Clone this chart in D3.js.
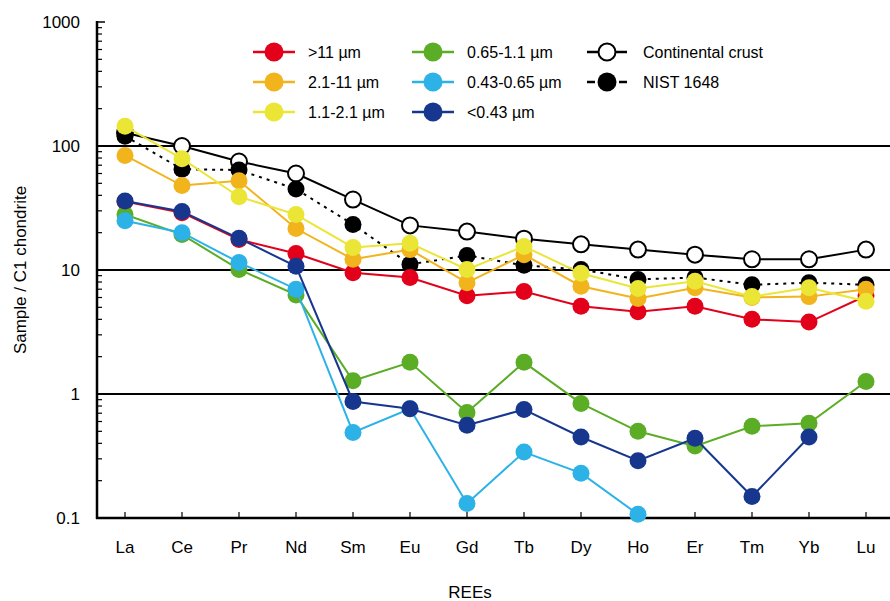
<!DOCTYPE html>
<html>
<head>
<meta charset="utf-8">
<script src="https://cdn.jsdelivr.net/npm/d3@7"></script>
<style>
  html, body { margin: 0; padding: 0; background: #fff; }
  svg { display: block; font-family: "Liberation Sans", Arial, sans-serif; }
</style>
</head>
<body>
<svg id="chart" width="890" height="601"></svg>
<script>
const categories = ["La","Ce","Pr","Nd","Sm","Eu","Gd","Tb","Dy","Ho","Er","Tm","Yb","Lu"];
const yTickValues = [0.1, 1, 10, 100, 1000];
const yTickLabels = ["0.1", "1", "10", "100", "1000"];

const seriesNames = [">11 µm", "2.1-11 µm", "1.1-2.1 µm", "0.65-1.1 µm", "0.43-0.65 µm", "<0.43 µm", "Continental crust", "NIST 1648"];
const gt11     = [35.7, 29, 17.6, 13.6, 9.5, 8.7, 6.2, 6.7, 5.1, 4.6, 5.1, 4.0, 3.8, 6.2];
const s2to11   = [84, 48, 52.5, 21.6, 12.2, 14.6, 7.9, 13.3, 7.4, 5.9, 7.2, 6.0, 6.1, 7.0];
const s1to2    = [144, 79, 39, 28, 15.2, 16.4, 10.1, 15.5, 9.4, 7.1, 8.1, 6.1, 7.2, 5.6];
const s065to11 = [28, 19.3, 10.1, 6.3, 1.28, 1.8, 0.71, 1.8, 0.84, 0.50, 0.38, 0.55, 0.58, 1.26];
const s043to065= [25, 20, 11.5, 7.0, 0.49, 0.76, 0.131, 0.34, 0.23, 0.107, null, null, null, null];
const lt043    = [36, 29.6, 18, 10.7, 0.87, 0.76, 0.56, 0.75, 0.45, 0.29, 0.44, 0.149, 0.45, null];
const crust    = [128, 100, 75, 60, 37, 22.9, 20.4, 17.9, 16.1, 14.6, 13.3, 12.2, 12.2, 14.6];
const nist     = [120, 65, 64, 45, 23.3, 11.1, 13.1, 10.9, 10.1, 8.4, 8.7, 7.6, 7.9, 7.6];

const seriesColors = ["#e2001a", "#f1b41d", "#ebe535", "#5bad25", "#2db2e7", "#17378e", "#000000", "#000000"];

const series = [
  {name: seriesNames[0], values: gt11, color: seriesColors[0], fill: seriesColors[0], dash: null},
  {name: seriesNames[1], values: s2to11, color: seriesColors[1], fill: seriesColors[1], dash: null},
  {name: seriesNames[2], values: s1to2, color: seriesColors[2], fill: seriesColors[2], dash: null},
  {name: seriesNames[3], values: s065to11, color: seriesColors[3], fill: seriesColors[3], dash: null},
  {name: seriesNames[4], values: s043to065, color: seriesColors[4], fill: seriesColors[4], dash: null},
  {name: seriesNames[5], values: lt043, color: seriesColors[5], fill: seriesColors[5], dash: null},
  {name: seriesNames[6], values: crust, color: seriesColors[6], fill: "#ffffff", dash: null, open: true},
  {name: seriesNames[7], values: nist, color: seriesColors[7], fill: "#000000", dash: "3,5"}
];

const svg = d3.select("#chart");
const plotLeft = 97, plotRight = 890, plotTop = 22, plotBottom = 518;

const x = d3.scalePoint().domain(categories).range([125, 866]);
const y = d3.scaleLog().domain([0.1, 1000]).range([plotBottom, plotTop]);

// gridlines at 1, 10, 100
svg.append("g").selectAll("line").data([1, 10, 100]).join("line")
  .attr("x1", plotLeft).attr("x2", plotRight)
  .attr("y1", d => y(d)).attr("y2", d => y(d))
  .attr("stroke", "#000").attr("stroke-width", 2);

// Y axis with inner minor ticks
const minor = [];
for (let e = -1; e < 3; e++) for (let m = 2; m <= 9; m++) minor.push(m * Math.pow(10, e));
const yAxis = svg.append("g").attr("transform", `translate(${plotLeft},0)`);
yAxis.selectAll("line.minor").data(minor).join("line")
  .attr("class", "minor")
  .attr("x1", 0).attr("x2", 5)
  .attr("y1", d => y(d)).attr("y2", d => y(d))
  .attr("stroke", "#000").attr("stroke-width", 1.2);
yAxis.selectAll("line.major").data(yTickValues).join("line")
  .attr("class", "major")
  .attr("x1", 0).attr("x2", 8)
  .attr("y1", d => y(d)).attr("y2", d => y(d))
  .attr("stroke", "#000").attr("stroke-width", 1.5);
yAxis.append("line").attr("x1", 0).attr("x2", 0).attr("y1", plotTop - 1).attr("y2", plotBottom + 1)
  .attr("stroke", "#000").attr("stroke-width", 2.5);
yAxis.selectAll("text").data(yTickValues).join("text")
  .attr("x", -17).attr("y", d => y(d)).attr("dy", "0.35em")
  .attr("text-anchor", "end").attr("font-size", 17).attr("fill", "#000")
  .text((d, i) => yTickLabels[i]);

// X axis
const xAxis = svg.append("g");
xAxis.append("line").attr("x1", plotLeft - 1).attr("x2", plotRight).attr("y1", plotBottom).attr("y2", plotBottom)
  .attr("stroke", "#000").attr("stroke-width", 2.5);
xAxis.selectAll("line.tick").data(categories).join("line")
  .attr("class", "tick")
  .attr("x1", d => x(d)).attr("x2", d => x(d))
  .attr("y1", plotBottom).attr("y2", plotBottom - 6)
  .attr("stroke", "#000").attr("stroke-width", 1.2);
xAxis.selectAll("text").data(categories).join("text")
  .attr("x", d => x(d)).attr("y", 553)
  .attr("text-anchor", "middle").attr("font-size", 17).attr("fill", "#000")
  .text(d => d);

// axis titles
svg.append("text").attr("x", 470).attr("y", 598).attr("text-anchor", "middle")
  .attr("font-size", 17).text("REEs");
svg.append("text").attr("transform", "translate(26,270) rotate(-90)")
  .attr("text-anchor", "middle").attr("font-size", 17).text("Sample / C1 chondrite");

// series
const line = d3.line()
  .defined(d => d.v != null)
  .x(d => x(d.c)).y(d => y(d.v));

const drawOrder = [6, 7, 0, 1, 2, 3, 4, 5];
drawOrder.forEach(i => {
  const s = series[i];
  const pts = categories.map((c, k) => ({c, v: s.values[k]}));
  const g = svg.append("g");
  g.append("path").datum(pts)
    .attr("d", line).attr("fill", "none")
    .attr("stroke", s.color).attr("stroke-width", 2)
    .attr("stroke-dasharray", s.dash);
  g.selectAll("circle").data(pts.filter(d => d.v != null)).join("circle")
    .attr("cx", d => x(d.c)).attr("cy", d => y(d.v))
    .attr("r", s.open ? 8 : 8.5)
    .attr("fill", s.fill)
    .attr("stroke", s.open ? "#000" : "none")
    .attr("stroke-width", 2);
});

// legend
const legendPos = [
  [274, 52], [274, 82], [274, 112],
  [433, 52], [433, 82], [433, 112],
  [607, 52], [607, 82]
];
series.forEach((s, i) => {
  const [cx, cy] = legendPos[i];
  const g = svg.append("g");
  const half = i >= 6 ? 20 : 21;
  if (i === 7) {
    g.append("line").attr("x1", cx - half).attr("x2", cx - 12).attr("y1", cy).attr("y2", cy)
      .attr("stroke", "#000").attr("stroke-width", 2.5);
    g.append("line").attr("x1", cx + 12).attr("x2", cx + half).attr("y1", cy).attr("y2", cy)
      .attr("stroke", "#000").attr("stroke-width", 2.5);
  } else {
    g.append("line").attr("x1", cx - half).attr("x2", cx + half).attr("y1", cy).attr("y2", cy)
      .attr("stroke", s.color).attr("stroke-width", 2.5);
  }
  g.append("circle").attr("cx", cx).attr("cy", cy).attr("r", s.open ? 8.5 : 9.5)
    .attr("fill", s.fill).attr("stroke", s.open ? "#000" : "none").attr("stroke-width", 2);
  g.append("text").attr("x", cx + (i >= 6 ? 36 : 34)).attr("y", cy).attr("dy", "0.35em")
    .attr("font-size", 16).attr("fill", "#000").text(s.name);
});
</script>
</body>
</html>
